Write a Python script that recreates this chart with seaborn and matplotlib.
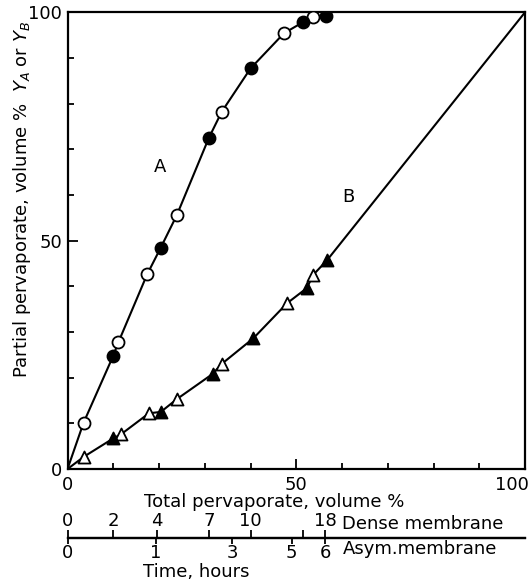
import matplotlib
matplotlib.use("Agg")
import matplotlib.pyplot as plt
import matplotlib.transforms as mtransforms
import seaborn as sns
import pandas as pd

# Curve A: component A in partial pervaporate (circles)
a_open_x = [3.5, 11.1, 17.4, 23.9, 33.7, 47.3, 53.6]
a_open_y = [10.1, 27.7, 42.6, 55.6, 78.2, 95.4, 99.0]
a_fill_x = [10.0, 20.4, 30.9, 40.0, 51.4, 56.5]
a_fill_y = [24.8, 48.5, 72.5, 87.7, 97.8, 99.2]

# Curve B: component B in partial pervaporate (triangles)
b_open_x = [3.6, 11.7, 17.8, 23.9, 33.7, 48.0, 53.7]
b_open_y = [2.7, 7.6, 12.2, 15.3, 23.0, 36.3, 42.5]
b_fill_x = [10.0, 20.4, 31.7, 40.6, 52.3, 56.8]
b_fill_y = [6.7, 12.5, 20.8, 28.6, 39.6, 45.8]

origin = (0.0, 0.0)
b_end = (100.0, 100.0)

# Time scales below the main axis
dense_hours = ["0", "2", "4", "7", "10", "", "18"]
dense_pos = [0.0, 10.0, 19.5, 31.0, 40.0, 51.4, 56.3]
asym_hours = ["0", "1", "3", "5", "6"]
asym_pos = [0.0, 19.3, 36.0, 49.0, 56.3]

major_ticks = [0, 50, 100]

sns.set_style("ticks")
plt.rcParams["font.family"] = ["DejaVu Sans"]
plt.rcParams["mathtext.fontset"] = "dejavusans"
plt.rcParams["axes.edgecolor"] = "black"
plt.rcParams["xtick.color"] = "black"
plt.rcParams["ytick.color"] = "black"
plt.rcParams["text.color"] = "black"

W, H = 532, 581
fig = plt.figure(figsize=(W / 100, H / 100), dpi=100)
left, right, bottom, top = 67.5, 525.0, 469.0, 12.3
ax = fig.add_axes([left / W, 1 - bottom / H, (right - left) / W, (bottom - top) / H])


def curve(xs_open, ys_open, xs_fill, ys_fill, start, end=None):
    pts = sorted(zip(xs_open + xs_fill, ys_open + ys_fill))
    pts = [start] + pts + ([end] if end else [])
    return pd.DataFrame(pts, columns=["x", "y"])


line_a = curve(a_open_x, a_open_y, a_fill_x, a_fill_y, origin)
line_b = curve(b_open_x, b_open_y, b_fill_x, b_fill_y, origin, b_end)

for df in (line_a, line_b):
    sns.lineplot(data=df, x="x", y="y", sort=False, color="black", lw=1.5, ax=ax,
                 estimator=None, zorder=2)

ms = 75
sns.scatterplot(x=a_open_x, y=a_open_y, marker="o", s=ms, facecolor="white",
                edgecolor="black", linewidth=1.3, ax=ax, zorder=3)
sns.scatterplot(x=a_fill_x, y=a_fill_y, marker="o", s=ms, facecolor="black",
                edgecolor="black", linewidth=1.3, ax=ax, zorder=3)
sns.scatterplot(x=b_open_x, y=b_open_y, marker="^", s=ms, facecolor="white",
                edgecolor="black", linewidth=1.3, ax=ax, zorder=3)
sns.scatterplot(x=b_fill_x, y=b_fill_y, marker="^", s=ms, facecolor="black",
                edgecolor="black", linewidth=1.3, ax=ax, zorder=3)

ax.set_xlim(0, 100)
ax.set_ylim(0, 100)
ax.set_xticks(major_ticks)
ax.set_yticks(major_ticks)
ax.set_xticks(range(0, 101, 10), minor=True)
ax.set_yticks(range(0, 101, 10), minor=True)
ax.tick_params(which="major", direction="in", length=7.5, width=1.3, labelsize=13)
ax.tick_params(axis="x", which="major", pad=5)
ax.tick_params(axis="y", which="major", pad=4)
ax.tick_params(which="minor", direction="in", length=4.5, width=1.3)
for s in ax.spines.values():
    s.set_visible(True)
    s.set_linewidth(1.6)
ax.set_xlabel("")
ax.set_ylabel("")

# keep the last x tick label inside the figure
last = ax.get_xticklabels()[-1]
last.set_transform(last.get_transform()
                   + mtransforms.ScaledTranslation(-13 / 100, 0, fig.dpi_scale_trans))

ax.text(20.2, 66.1, "A", fontsize=13, ha="center", va="center")
ax.text(61.3, 59.6, "B", fontsize=13, ha="center", va="center")

fig.text(274 / W, 1 - 502 / H, "Total pervaporate, volume %", fontsize=13,
         ha="center", va="center")
fig.text(22 / W, 1 - 200 / H,
         r"Partial pervaporate, volume %  $Y_A$ or $Y_B$", fontsize=13,
         rotation=90, ha="center", va="center")

# Time axes: dense membrane above the line, asymmetric membrane below
line_y = 1 - 538 / H
for pos, labels, side in ((dense_pos, dense_hours, "top"), (asym_pos, asym_hours, "bottom")):
    tax = fig.add_axes([left / W, line_y, (right - left) / W, 1e-6])
    tax.set_xlim(0, 100)
    tax.set_yticks([])
    tax.patch.set_visible(False)
    for name, s in tax.spines.items():
        s.set_visible(name == side)
        s.set_linewidth(1.6)
    tax.set_xticks(pos)
    tax.set_xticklabels(labels)
    if side == "top":
        tax.xaxis.set_ticks_position("top")
        tax.tick_params(axis="x", direction="out", length=5.5, width=1.3,
                        labelsize=13, pad=0)
    else:
        tax.tick_params(axis="x", direction="out", length=4, width=1.3,
                        labelsize=13, pad=0)

fig.text(342 / W, 1 - 524 / H, "Dense membrane", fontsize=13, ha="left", va="center")
fig.text(343 / W, 1 - 549 / H, "Asym.membrane", fontsize=13, ha="left", va="center")
fig.text(143 / W, 1 - 572 / H, "Time, hours", fontsize=13, ha="left", va="center")

fig.savefig("out.png", dpi=100)
